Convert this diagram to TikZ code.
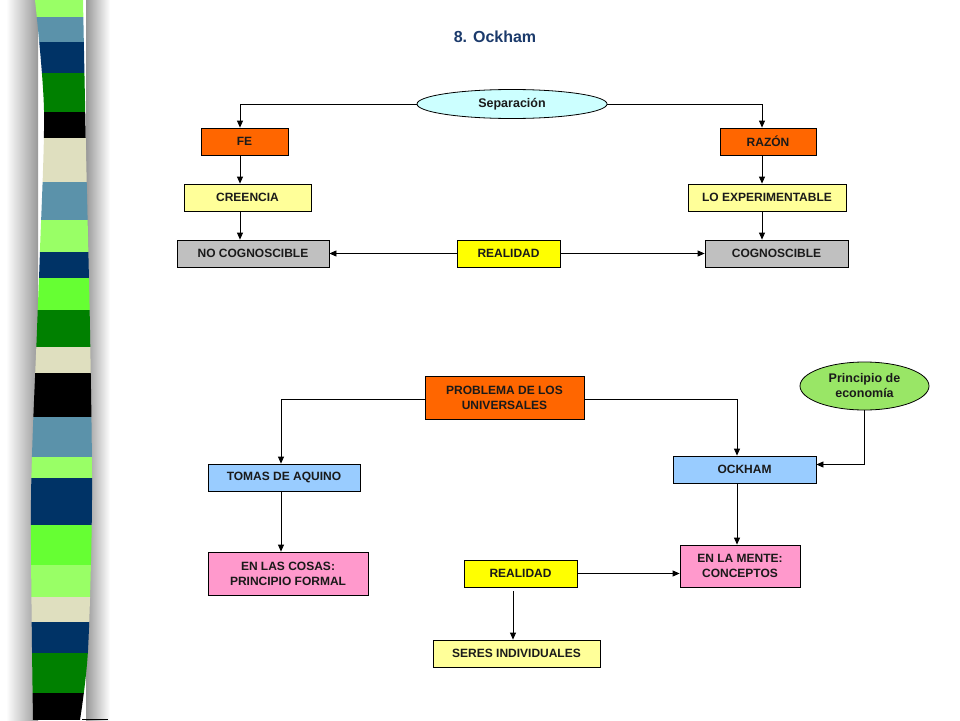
\documentclass[tikz,border=0pt]{standalone}
\usepackage{fontspec}
\setmainfont{Liberation Sans}
\usepackage{tikz}
\usetikzlibrary{shapes.geometric,arrows.meta}
\definecolor{txt}{HTML}{1A1A1A}
\definecolor{titulo}{HTML}{1B3A6B}
\definecolor{naranja}{HTML}{FF6600}
\definecolor{amarclaro}{HTML}{FFFF99}
\definecolor{amarillo}{HTML}{FFFF00}
\definecolor{gris}{HTML}{C0C0C0}
\definecolor{celeste}{HTML}{CCFFFF}
\definecolor{verdeclaro}{HTML}{99E666}
\definecolor{azulclaro}{HTML}{99CCFF}
\definecolor{rosa}{HTML}{FF99CC}
% stripe colours
\definecolor{lgreen}{HTML}{99FF66}
\definecolor{steel}{HTML}{5B92AA}
\definecolor{navy}{HTML}{003366}
\definecolor{dgreen}{HTML}{008000}
\definecolor{beige}{HTML}{DFDFBF}
\definecolor{bgreen}{HTML}{66FF33}

\begin{document}
\begin{tikzpicture}[x=1pt,y=-1pt,
    caja/.style={draw=black,line width=0.8pt,inner sep=0pt,minimum height=27pt,
      text=txt,font=\fontsize{12}{15}\selectfont\bfseries,align=center},
    elipse/.style={caja,ellipse,font=\fontsize{12.5}{15}\selectfont\bfseries},
    flecha/.style={-{Triangle[length=7pt,width=6pt]},line width=0.8pt}]
  \useasboundingbox (0,0) rectangle (960,720);

  %Stripe shadows
  \fill[left color=white,right color=gray!80] (6,0) rectangle (38,720);
  \fill[left color=gray!80,right color=white] (86,0) rectangle (110,720);
  %Stripes
  \begin{scope}
    \clip plot[smooth] coordinates {(35,0) (44,110) (40,250) (37,330) (31,500) (33,720)}
      -- plot[smooth] coordinates {(80,720) (88,650) (92,500) (90,330) (86,150) (83,0)} -- cycle;
    \foreach \ya/\yb/\col in {0/17/lgreen, 17/42/steel, 42/73/navy, 73/112/dgreen,
        112/138/black, 138/182/beige, 182/220/steel, 220/252/lgreen, 252/278/navy,
        278/310/bgreen, 310/347/dgreen, 347/373/beige, 373/417/black, 417/457/steel,
        457/478/lgreen, 478/525/navy, 525/565/bgreen, 565/597/lgreen, 597/622/beige,
        622/653/navy, 653/693/dgreen, 693/720/black}
      \fill[\col] (20,\ya) rectangle (100,\yb);
  \end{scope}
  \draw[line width=1pt] (82,719.5) -- (108,719.5);

  %Title
  \node[text=titulo,font=\fontsize{16}{18}\selectfont\bfseries] (tit) at (495,37) {8. Ockham};

  %Columns
  \coordinate (colL) at (240,0);
  \coordinate (colR) at (762,0);
  \coordinate (colA) at (281,0);
  \coordinate (colB) at (737,0);
  \coordinate (colC) at (513,0);

  %Upper map
  \node[elipse,fill=celeste,minimum width=190pt,minimum height=29pt] (sep) at (512,104) {Separación};
  \node[caja,fill=naranja,minimum width=87pt] (fe) at (244.5,141.5) {FE};
  \node[caja,fill=naranja,minimum width=96pt] (razon) at (768,141.5) {RAZÓN};
  \node[caja,fill=amarclaro,minimum width=127pt] (creencia) at (247.5,197.5) {CREENCIA};
  \node[caja,fill=amarclaro,minimum width=158pt] (experim) at (767,197.5) {LO EXPERIMENTABLE};
  \node[caja,fill=gris,minimum width=152pt] (nocog) at (253,253.5) {NO COGNOSCIBLE};
  \node[caja,fill=amarillo,minimum width=103pt] (real) at (508.5,253.5) {REALIDAD};
  \node[caja,fill=gris,minimum width=143pt] (cog) at (776.5,253.5) {COGNOSCIBLE};

  \draw[flecha] (sep.west) -| (fe.north -| colL);
  \draw[flecha] (sep.east) -| (razon.north -| colR);
  \draw[flecha] (fe.south -| colL) -- (creencia.north -| colL);
  \draw[flecha] (razon.south -| colR) -- (experim.north -| colR);
  \draw[flecha] (creencia.south -| colL) -- (nocog.north -| colL);
  \draw[flecha] (experim.south -| colR) -- (cog.north -| colR);
  \draw[flecha] (real.west) -- (nocog.east);
  \draw[flecha] (real.east) -- (cog.west);

  %Lower map
  \node[caja,fill=naranja,minimum width=159pt,minimum height=43pt] (prob) at (504.5,397.5) {PROBLEMA DE LOS\\UNIVERSALES};
  \node[elipse,fill=verdeclaro,minimum width=129pt,minimum height=48pt] (econ) at (864.5,386) {Principio de\\economía};
  \node[caja,fill=azulclaro,minimum width=152pt] (tomas) at (284,477.5) {TOMAS DE AQUINO};
  \node[caja,fill=azulclaro,minimum width=143pt] (ockham) at (744.5,469.5) {OCKHAM};
  \node[caja,fill=rosa,minimum width=160pt,minimum height=43pt] (cosas) at (288,573.5) {EN LAS COSAS:\\PRINCIPIO FORMAL};
  \node[caja,fill=rosa,minimum width=120pt,minimum height=42pt] (mente) at (740,566) {EN LA MENTE:\\CONCEPTOS};
  \node[caja,fill=amarillo,minimum width=113pt] (real2) at (520.5,573.5) {REALIDAD};
  \node[caja,fill=amarclaro,minimum width=167pt] (seres) at (516.5,653.5) {SERES INDIVIDUALES};

  \draw[flecha] ([yshift=-2pt]prob.west) -| (tomas.north -| colA);
  \draw[flecha] ([yshift=-2pt]prob.east) -| (ockham.north -| colB);
  \draw[flecha] (econ.south) |- ([yshift=5pt]ockham.east);
  \draw[flecha] (tomas.south -| colA) -- (cosas.north -| colA);
  \draw[flecha] (ockham.south -| colB) -- (mente.north -| colB);
  \draw[flecha] (real2.east) -- (real2.east -| mente.west);
  \draw[flecha,shorten <=4pt] (real2.south -| colC) -- (seres.north -| colC);
\end{tikzpicture}
\end{document}
